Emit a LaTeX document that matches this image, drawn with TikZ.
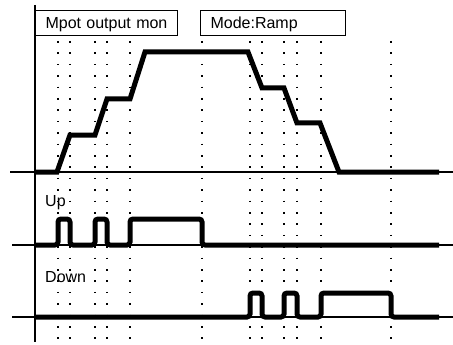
\documentclass[tikz,border=0pt]{standalone}
\usepackage{fontspec}
\setmainfont{Liberation Sans}
\begin{document}
\begin{tikzpicture}[x=1pt,y=-1pt,
  thin axis/.style={line width=1.1pt,black},
  signal/.style={line width=5pt,black,line join=miter},
  pulse/.style={line width=5pt,black,rounded corners=3pt},
  gridline/.style={line width=1.6pt,black,dash pattern=on 1.6pt off 9.8pt},
  labelbox/.style={draw,line width=1.1pt,anchor=north west,minimum height=25pt,text depth=0pt,inner xsep=0pt,font=\fontsize{16}{16}\selectfont,align=left},
  lbl/.style={anchor=west,inner sep=0pt,font=\fontsize{16}{16}\selectfont}]
\useasboundingbox (0,0) rectangle (453,345);
% dotted time lines
\foreach \xx in {58,70,95,107,130,202,250,262,284,297,321,391}{
  \draw[gridline] (\xx,41) -- (\xx,345);
}
% axis
\coordinate (axT) at (35,5);
\coordinate (axB) at (35,342);
\draw[thin axis] (axT) -- (axB);
% baselines
\coordinate (b1L) at (10,172); \coordinate (b1R) at (453,172);
\coordinate (b2L) at (12,245); \coordinate (b2R) at (453,245);
\coordinate (b3L) at (12,317); \coordinate (b3R) at (453,317);
\draw[thin axis] (b1L) -- (b1R);
\draw[thin axis] (b2L) -- (b2R);
\draw[thin axis] (b3L) -- (b3R);
% boxes
\node[labelbox,minimum width=142pt,text width=142pt] (mpot) at (35,10) {\hspace{10pt}Mpot output mon};
\node[labelbox,minimum width=145pt,text width=145pt] (mode) at (200,10) {\hspace{10pt}Mode:Ramp};
% labels
\node[lbl] (up) at (45,203) {Up};
\node[lbl] (down) at (45,277) {Down};
% ramp signal
\draw[signal] (35,172) -- (57,172) -- (70,135) -- (95,135) -- (107,99) -- (130,99) -- (145,52) -- (248,52) -- (262,88) -- (284,88) -- (297,123) -- (320,123) -- (339,172) -- (439,172);
% up signal
\draw[pulse] (35,245) -- (58,245) -- (58,219) -- (70,219) -- (70,245) -- (95,245) -- (95,219) -- (107,219) -- (107,245) -- (130,245) -- (130,219) -- (202,219) -- (202,245) -- (439,245);
% down signal
\draw[pulse] (35,317) -- (250,317) -- (250,293) -- (262,293) -- (262,317) -- (284,317) -- (284,293) -- (297,293) -- (297,317) -- (321,317) -- (321,293) -- (391,293) -- (391,317) -- (439,317);
\end{tikzpicture}
\end{document}
